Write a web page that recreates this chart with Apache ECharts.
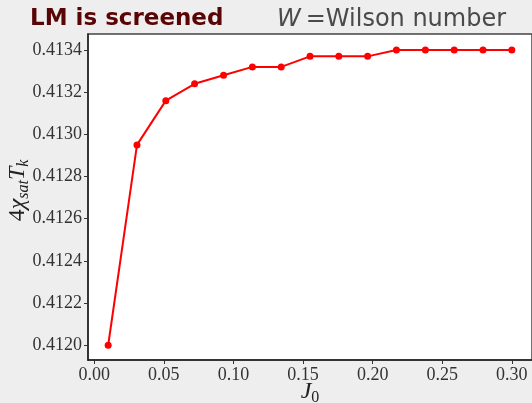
<!DOCTYPE html>
<html>
<head>
<meta charset="utf-8">
<script src="https://cdn.jsdelivr.net/npm/echarts@6/dist/echarts.min.js"></script>
<style>
  html, body { margin: 0; padding: 0; background: #eeeeee; }
  #chart { width: 532px; height: 403px; }
</style>
</head>
<body>
<div id="chart"></div>
<script>
// Coupling J0 and the saturated susceptibility 4*chi_sat*T_k
const j0Values = [0.01, 0.0307, 0.0514, 0.0721, 0.0929, 0.1136, 0.1343, 0.1550,
                  0.1757, 0.1964, 0.2171, 0.2379, 0.2586, 0.2793, 0.30];
const chiValues = [0.41200, 0.41295, 0.41316, 0.41324, 0.41328, 0.41332, 0.41332, 0.41337,
                   0.41337, 0.41337, 0.41340, 0.41340, 0.41340, 0.41340, 0.41340];
const xTicks = [0.00, 0.05, 0.10, 0.15, 0.20, 0.25, 0.30];
const yTicks = [0.4120, 0.4122, 0.4124, 0.4126, 0.4128, 0.4130, 0.4132, 0.4134];

const serif = '"Liberation Serif", "DejaVu Serif", serif';
const points = j0Values.map((x, i) => [x, chiValues[i]]);

const chart = echarts.init(document.getElementById('chart'), null, { renderer: 'canvas' });
chart.setOption({
  backgroundColor: '#eeeeee',
  animation: false,
  title: [
    {
      text: 'LM is screened',
      left: 25, top: 3,
      textStyle: { fontFamily: '"DejaVu Sans", sans-serif', fontWeight: 'bold', fontSize: 23, color: '#5a0505' }
    },
    {
      text: '{w|W} {t|=Wilson number}',
      left: 272, top: 3,
      textStyle: {
        fontWeight: 'normal',
        rich: {
          w: { fontFamily: '"DejaVu Sans", sans-serif', fontStyle: 'italic', fontWeight: 'normal', fontSize: 24, color: '#4a4a4a' },
          t: { fontFamily: '"DejaVu Sans", sans-serif', fontWeight: 'normal', fontSize: 24, color: '#4a4a4a' }
        }
      }
    }
  ],
  grid: {
    left: 88, top: 34, right: 0, bottom: 43,
    containLabel: false, outerBoundsMode: 'none',
    show: true, backgroundColor: '#ffffff', borderColor: '#444444', borderWidth: 1.5
  },
  xAxis: {
    type: 'value',
    min: -0.0045, max: 0.3145,
    splitLine: { show: false },
    axisLine: { show: true, onZero: false, lineStyle: { color: '#222222', width: 1.5 } },
    axisTick: { show: true, customValues: xTicks, length: 4, lineStyle: { color: '#333333' } },
    axisLabel: {
      customValues: xTicks, margin: 6,
      formatter: v => v.toFixed(2),
      fontFamily: serif, fontSize: 18, color: '#333333'
    },
    name: '{i|J}{s|0}',
    nameLocation: 'middle', nameGap: 18, nameMoveOverlap: false,
    nameTextStyle: {
      rich: {
        i: { fontFamily: serif, fontStyle: 'italic', fontSize: 24, color: '#222222', lineHeight: 28 },
        s: { fontFamily: serif, fontSize: 16, color: '#222222', lineHeight: 14, verticalAlign: 'bottom' }
      }
    }
  },
  yAxis: {
    type: 'value',
    min: 0.41193, max: 0.413476,
    splitLine: { show: false },
    axisLine: { show: true, onZero: false, lineStyle: { color: '#222222', width: 1.5 } },
    axisTick: { show: true, customValues: yTicks, length: 4, lineStyle: { color: '#333333' } },
    axisLabel: {
      customValues: yTicks, margin: 6,
      formatter: v => v.toFixed(4),
      fontFamily: serif, fontSize: 18, color: '#333333'
    },
    name: '{p| }{n|4}{i|χ}{s|sat}{i|T}{s|k}',
    nameLocation: 'middle', nameRotate: 90, nameGap: 56, nameMoveOverlap: false,
    nameTextStyle: {
      rich: {
        p: { fontFamily: serif, fontSize: 24, width: 13, lineHeight: 28 },
        n: { fontFamily: serif, fontSize: 24, color: '#222222', lineHeight: 28 },
        i: { fontFamily: serif, fontStyle: 'italic', fontSize: 24, color: '#222222', lineHeight: 28 },
        s: { fontFamily: serif, fontStyle: 'italic', fontSize: 16, color: '#222222', lineHeight: 14, verticalAlign: 'bottom' }
      }
    }
  },
  series: [{
    type: 'line',
    data: points,
    symbol: 'circle',
    symbolSize: 7,
    lineStyle: { color: '#ff0000', width: 2 },
    itemStyle: { color: '#ff0000' }
  }]
});
</script>
</body>
</html>
